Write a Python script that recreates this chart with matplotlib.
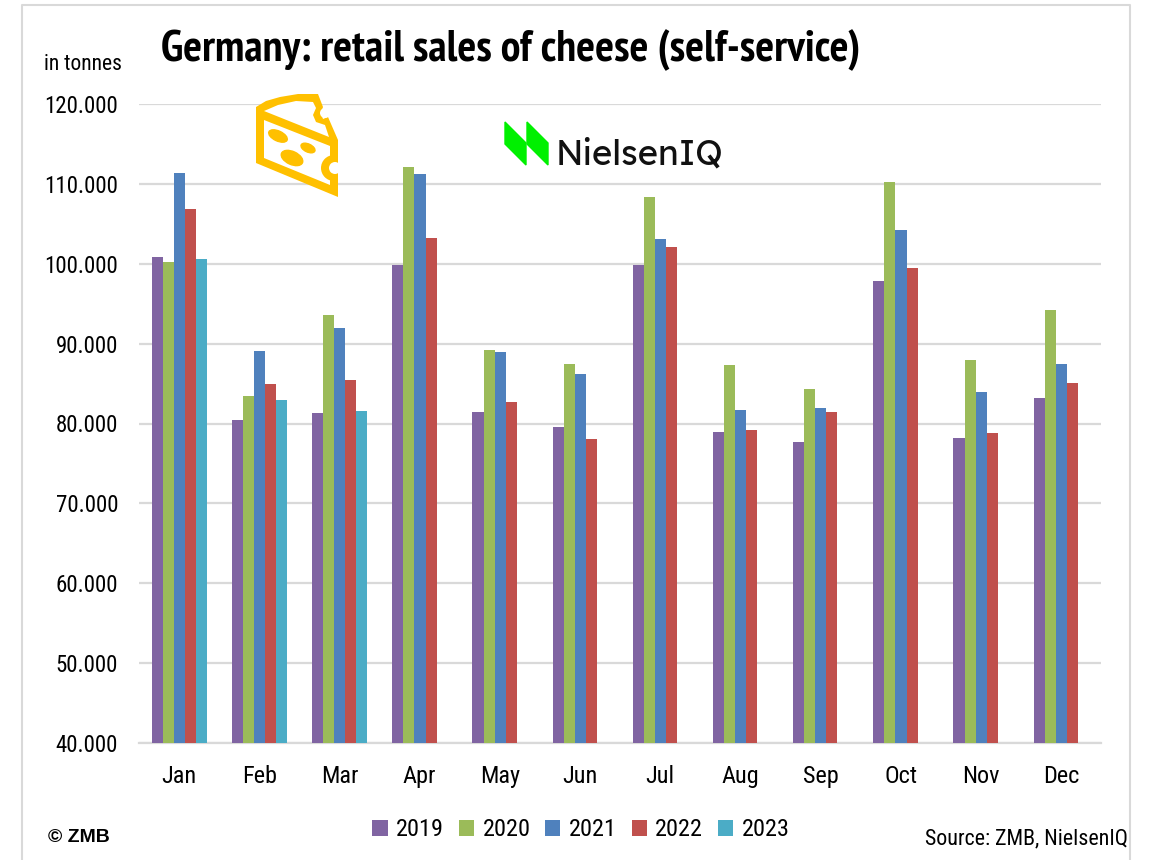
import numpy as np
import matplotlib.pyplot as plt
from matplotlib.patches import Polygon, Ellipse, Circle

months = ['Jan', 'Feb', 'Mar', 'Apr', 'May', 'Jun', 'Jul', 'Aug', 'Sep', 'Oct', 'Nov', 'Dec']
years = ['2019', '2020', '2021', '2022', '2023']
colors = ['#8064A2', '#9BBB59', '#4F81BD', '#C0504D', '#4BACC6']

sales_2019 = [100800, 80400, 81300, 99900, 81500, 79500, 99800, 78900, 77700, 97800, 78200, 83200]
sales_2020 = [100200, 83500, 93600, 112100, 89200, 87500, 108300, 87300, 84300, 110200, 87900, 94200]
sales_2021 = [111300, 89100, 92000, 111200, 89000, 86200, 103100, 81700, 81900, 104200, 84000, 87500]
sales_2022 = [106800, 85000, 85400, 103200, 82700, 78000, 102100, 79200, 81500, 99500, 78800, 85100]
sales_2023 = [100600, 83000, 81600]
all_sales = [sales_2019, sales_2020, sales_2021, sales_2022, sales_2023]

yticks = np.arange(40000, 120001, 10000)

plt.rcParams['font.family'] = ['Roboto Condensed', 'Archivo Narrow', 'Liberation Sans', 'DejaVu Sans']
bold_font = ['PT Sans Narrow', 'Roboto Condensed', 'Liberation Sans', 'DejaVu Sans']

W, H = 1153, 860
fig = plt.figure(figsize=(W / 100, H / 100), dpi=100)

# overlay in pixel coords for the frame
bg = fig.add_axes([0, 0, 1, 1])
bg.set_xlim(0, W)
bg.set_ylim(H, 0)
bg.axis('off')
bg.plot([22, 22, 1130, 1130], [860, 5, 5, 860], color='#D9D9D9', lw=1.5)

ax = fig.add_axes([139 / W, 1 - 743 / H, (1101 - 139) / W, (743 - 104) / H])
x = np.arange(12)
w = 0.138
for i, vals in enumerate(all_sales):
    ax.bar(x[:len(vals)] + (i - 2) * w + 0.005, vals, w, color=colors[i], label=years[i], zorder=3)

ax.set_xlim(-0.5, 11.5)
ax.set_ylim(40000, 120000)
ax.set_yticks(yticks)
ax.set_yticklabels([f'{v // 1000}.000' for v in yticks], fontsize=16.5)
ax.set_xticks(x)
ax.set_xticklabels(months, fontsize=17.5)
ax.tick_params(length=0)
ax.tick_params(axis='x', pad=16)
ax.tick_params(axis='y', pad=15)
ax.grid(axis='y', color='#D9D9D9', lw=1.6, zorder=0)
for s in ['top', 'right', 'left']:
    ax.spines[s].set_visible(False)
ax.spines['bottom'].set_color('#D9D9D9')
ax.spines['bottom'].set_linewidth(1.6)
ax.patch.set_alpha(0)

fig.text(161 / W, 1 - 50 / H, 'Germany: retail sales of cheese (self-service)', fontsize=31.8,
         fontweight='bold', va='center', family=bold_font)
fig.text(82.5 / W, 1 - 65 / H, 'in tonnes', fontsize=15.5, ha='center', va='center')
fig.text(48 / W, 1 - 838 / H, '© ZMB', fontsize=14, fontweight='bold', va='center',
         family=['Liberation Sans', 'DejaVu Sans'])
fig.text(1128 / W, 1 - 839 / H, 'Source: ZMB, NielsenIQ', fontsize=15.8, ha='right', va='center')

fig.legend(loc='center', bbox_to_anchor=(581 / W, 1 - 830 / H), ncol=5, frameon=False, fontsize=17.5,
           handlelength=0.62, handleheight=0.62, handletextpad=0.35, columnspacing=0.61)

# cheese icon and logo on top
top = fig.add_axes([0, 0, 1, 1])
top.set_xlim(0, W)
top.set_ylim(H, 0)
top.axis('off')
yellow = '#FFC000'
outline = [(256, 107), (266, 101), (280, 97), (298, 94), (318, 94), (323, 107), (321, 113), (323, 119), (328, 117),
           (338, 140), (338, 197), (256, 163)]
body = Polygon(outline, closed=True, fc=yellow, ec='none')
top.add_patch(body)
top.add_patch(Polygon([(264, 111), (278, 105), (296, 101), (313, 102), (316, 108), (313, 115), (316, 122), (325, 125),
                       (329, 137)], closed=True, fc='white', ec='none'))
top.add_patch(Polygon([(264, 120), (330, 146), (330, 185), (264, 158)], closed=True, fc='white', ec='none'))
ring = Circle((334, 168), 13, fc=yellow, ec='none')
top.add_patch(ring)
ring.set_clip_path(body)
top.add_patch(Circle((335, 168), 6, fc='white', ec='none'))
top.add_patch(Circle((325, 113), 5, fc='white', ec='none'))
top.add_patch(Ellipse((278, 136), 20, 10, angle=25, color=yellow))
top.add_patch(Ellipse((308, 148), 15, 8, angle=25, color=yellow))
top.add_patch(Ellipse((292, 158), 23, 13, angle=25, color=yellow))

green = '#00F000'
top.add_patch(Polygon([(505, 122), (526, 143), (526, 165), (505, 144)], color=green))
top.add_patch(Polygon([(527, 122), (548, 143), (548, 165), (527, 144)], color=green))
top.text(556, 155, 'NielsenIQ', family=['Lexend', 'Liberation Sans', 'DejaVu Sans'], fontsize=25, va='center',
         color='#111111')

fig.savefig('out.png', dpi=100)
